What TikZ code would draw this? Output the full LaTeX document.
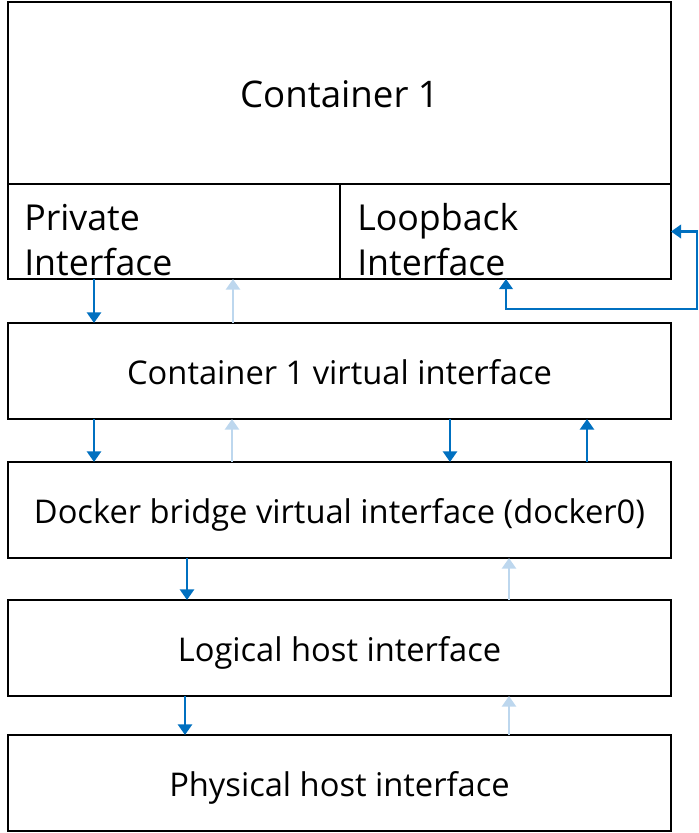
\documentclass[tikz,border=0pt]{standalone}
\usepackage{fontspec}
\setmainfont{Open Sans}
\usetikzlibrary{arrows.meta}
\definecolor{blued}{HTML}{0070C0}
\definecolor{bluel}{HTML}{BDD7EE}

\begin{document}
\begin{tikzpicture}[x=0.75pt,y=-0.75pt,line join=miter,
    box/.style={draw,line width=1.5pt,inner sep=0pt,outer sep=0pt,anchor=north west,
      minimum width=497.25pt,minimum height=72pt,text height=20pt,text depth=0pt,
      font=\fontsize{24.5}{30}\selectfont},
    half/.style={box,minimum height=71.25pt,minimum width=#1},
    iftext/.style={anchor=west,inner sep=0pt,align=left,
      font=\fontsize{26.8}{33.75}\selectfont},
    dn/.style={-{Triangle[width=10.5pt,length=8pt]},line width=2.2pt,blued},
    up/.style={-{Triangle[width=10.5pt,length=8pt]},line width=2.2pt,#1},
    up/.default=bluel]
  \useasboundingbox (0,0) rectangle (699,833);

  % container and its two interfaces
  \node[box,minimum height=136.5pt,text height=22pt,font=\fontsize{27.5}{32}\selectfont] (cont) at (8,2) {Container 1};
  \node[half=249pt] (priv) at (8,184) {};
  \node[half=248.25pt] (loop) at (340,184) {};
  \node[iftext] (privt) at (24,240) {Private\\Interface};
  \node[iftext] (loopt) at (357,240) {Loopback\\Interface};

  % stacked interfaces
  \node[box] (cvi) at (8,323) {Container 1 virtual interface};
  \node[box] (dbr) at (8,462) {Docker bridge virtual interface (docker0)};
  \node[box] (lhi) at (8,600) {Logical host interface};
  \node[box] (phi) at (8,735) {Physical host interface};

  % traffic between layers
  \draw[dn] (94,0 |- priv.south) -- (94,0 |- cvi.north);
  \draw[up] (233,0 |- cvi.north) -- (233,0 |- priv.south);
  \draw[dn] (94,0 |- cvi.south) -- (94,0 |- dbr.north);
  \draw[up] (232,0 |- dbr.north) -- (232,0 |- cvi.south);
  \draw[dn] (450,0 |- cvi.south) -- (450,0 |- dbr.north);
  \draw[up=blued] (587,0 |- dbr.north) -- (587,0 |- cvi.south);
  \draw[dn] (187,0 |- dbr.south) -- (187,0 |- lhi.north);
  \draw[up] (509,0 |- lhi.north) -- (509,0 |- dbr.south);
  \draw[dn] (185,0 |- lhi.south) -- (185,0 |- phi.north);
  \draw[up] (509,0 |- phi.north) -- (509,0 |- lhi.south);

  % loopback path
  \draw[blued,line width=1.8pt,{Triangle[width=10pt,length=7.5pt]}-{Triangle[width=10pt,length=7.5pt]}]
    (loop.east) -| (697,309) -| (506,0 |- loop.south);
\end{tikzpicture}
\end{document}
